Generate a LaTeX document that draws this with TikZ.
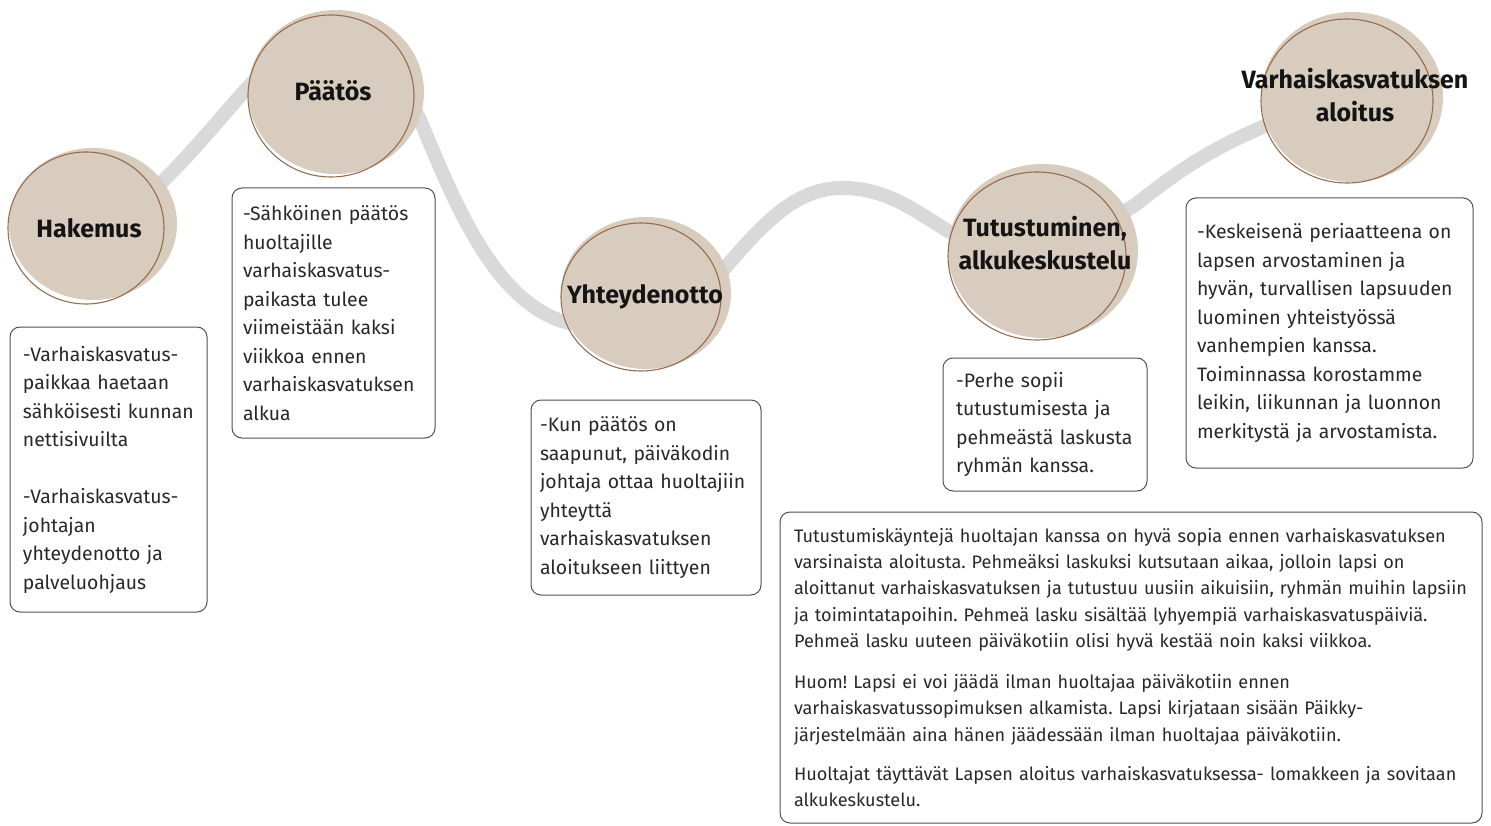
\documentclass[tikz,border=0pt]{standalone}
\usepackage{fontspec}
\setmainfont{Fira Sans}
\usetikzlibrary{shapes.geometric}
\definecolor{roadgrey}{RGB}{217,217,217}
\definecolor{blobbeige}{RGB}{216,204,190}
\definecolor{blobbrown}{RGB}{150,108,78}
\definecolor{boxgrey}{RGB}{80,80,80}
\definecolor{textdark}{RGB}{40,40,40}
\definecolor{titleblack}{RGB}{20,20,20}
\frenchspacing
\begin{document}
\begin{tikzpicture}[x=1pt,y=-1pt,
  road/.style={line width=14pt, draw=roadgrey, line cap=round},
  blob/.style={ellipse, fill=blobbeige, draw=none, inner sep=0pt},
  blobline/.style={draw=blobbrown, line width=1.1pt},
  title/.style={font=\fontsize{25}{33}\selectfont\bfseries, text=titleblack, align=center, inner sep=0pt},
  infobox/.style={draw=boxgrey, line width=1pt, rounded corners=10pt, align=left, inner ysep=0pt, text=textdark, font=\fontsize{19.4}{28.5}\selectfont},
  widebox/.style={infobox, font=\fontsize{18.1}{26.3}\selectfont}
]
\useasboundingbox (0,0) rectangle (1491,826);

% blob positions (named)
\coordinate (hakC) at (93,224);
\coordinate (patC) at (336,92);
\coordinate (yhtC) at (646,293);
\coordinate (tutC) at (1043,251);
\coordinate (varC) at (1352,97);

% road behind the blobs
\draw[road] (hakC)
  .. controls (140,220) and (200,140) .. (250,85)
  .. controls (290,40) and (390,50) .. (420,120)
  .. controls (450,190) and (490,300) .. (565,322)
  .. controls (620,335) and (690,305) .. (725,268)
  .. controls (770,215) and (800,188) .. (843,188)
  .. controls (890,188) and (920,215) .. (955,235)
  .. controls (1000,262) and (1090,235) .. (1135,205)
  .. controls (1180,170) and (1230,130) .. (varC);

% blobs (fill)
\node[blob, minimum width=168, minimum height=152] (hakB) at (hakC) {};
\node[blob, minimum width=176, minimum height=164] (patB) at (patC) {};
\node[blob, minimum width=170, minimum height=152] (yhtB) at (yhtC) {};
\node[blob, minimum width=190, minimum height=174] (tutB) at (tutC) {};
\node[blob, minimum width=182, minimum height=170] (varB) at (varC) {};

% outlines
\draw[blobline] (86,228) ellipse (78 and 76);
\draw[blobline] (331,96) ellipse (83 and 81);
\draw[blobline] (641,297) ellipse (80 and 74);
\draw[blobline] (1037,256) ellipse (89 and 84);
\draw[blobline] (1347,101) ellipse (86 and 82);

% titles
\node[title] (hakT) at (89,228) {Hakemus};
\node[title] (patT) at (333,91) {Päätös};
\node[title] (yhtT) at (645,297) {Yhteydenotto};
\node[title] (tutT) at (1045,243) {Tutustuminen,\\alkukeskustelu};
\node[title] (varT) at (1355,95) {Varhaiskasvatuksen\\aloitus};

% info boxes
\node[infobox, minimum width=197, minimum height=285, text width=171, inner xsep=13pt] (box1) at (108.5,469.5)
 {-Varhaiskasvatus-\\paikkaa haetaan\\sähköisesti kunnan\\nettisivuilta\\[28.5pt]-Varhaiskasvatus-\\johtajan\\yhteydenotto ja\\palveluohjaus};
\node[infobox, minimum width=203, minimum height=250, text width=181, inner xsep=11pt] (box2) at (333.5,313)
 {-Sähköinen päätös\\huoltajille\\varhaiskasvatus-\\paikasta tulee\\viimeistään kaksi\\viikkoa ennen\\varhaiskasvatuksen\\alkua};
\node[infobox, minimum width=230, minimum height=195, text width=212, inner xsep=9pt] (box3) at (646,497.5)
 {-Kun päätös on\\saapunut, päiväkodin\\johtaja ottaa huoltajiin\\yhteyttä\\varhaiskasvatuksen\\aloitukseen liittyen};
\node[infobox, minimum width=204, minimum height=133, text width=178, inner xsep=13pt] (box4) at (1045,424.5)
 {-Perhe sopii\\tutustumisesta ja\\pehmeästä laskusta\\ryhmän kanssa.};
\node[infobox, minimum width=287, minimum height=270, text width=265, inner xsep=11pt] (box5) at (1329.5,333)
 {-Keskeisenä periaatteena on\\lapsen arvostaminen ja\\hyvän, turvallisen lapsuuden\\luominen yhteistyössä\\vanhempien kanssa.\\Toiminnassa korostamme\\leikin, liikunnan ja luonnon\\merkitystä ja arvostamista.};
\node[widebox, minimum width=702, minimum height=311, text width=674, inner xsep=14pt] (box6) at (1131,667.5)
 {Tutustumiskäyntejä huoltajan kanssa on hyvä sopia ennen varhaiskasvatuksen\\varsinaista aloitusta. Pehmeäksi laskuksi kutsutaan aikaa, jolloin lapsi on\\aloittanut varhaiskasvatuksen ja tutustuu uusiin aikuisiin, ryhmän muihin lapsiin\\ja toimintatapoihin. Pehmeä lasku sisältää lyhyempiä varhaiskasvatuspäiviä.\\Pehmeä lasku uuteen päiväkotiin olisi hyvä kestää noin kaksi viikkoa.\\[15pt]Huom! Lapsi ei voi jäädä ilman huoltajaa päiväkotiin ennen\\varhaiskasvatussopimuksen alkamista. Lapsi kirjataan sisään Päikky-\\järjestelmään aina hänen jäädessään ilman huoltajaa päiväkotiin.\\[13pt]Huoltajat täyttävät Lapsen aloitus varhaiskasvatuksessa- lomakkeen ja sovitaan\\alkukeskustelu.};
\end{tikzpicture}
\end{document}
